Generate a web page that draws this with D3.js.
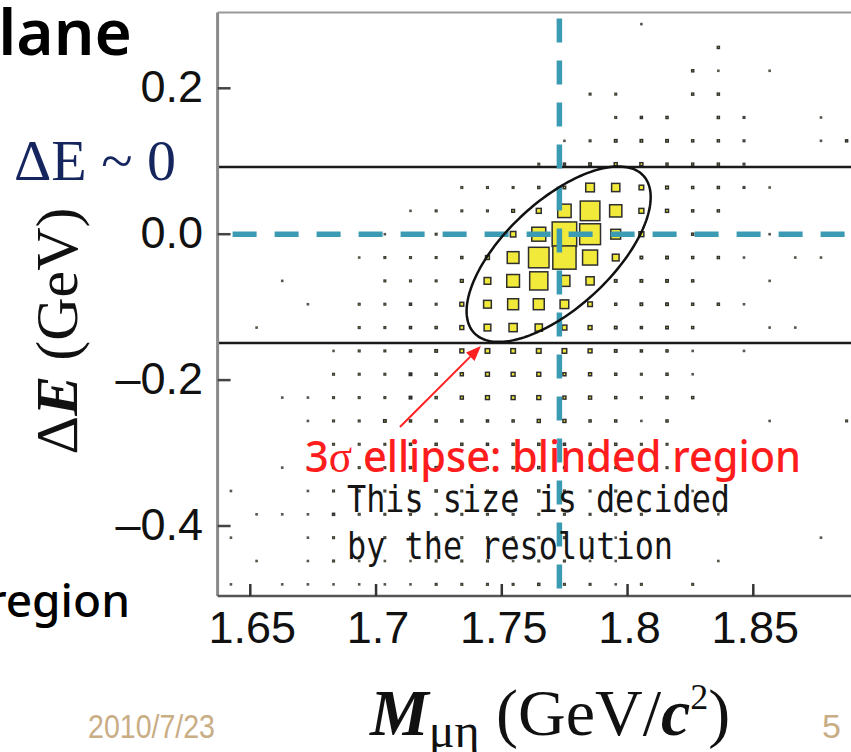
<!DOCTYPE html>
<html>
<head>
<meta charset="utf-8">
<script src="https://cdn.jsdelivr.net/npm/d3@7"></script>
<style>
  body { margin: 0; background: #fff; }
  svg { display: block; }
</style>
</head>
<body>
<div class="container"></div>
<script>
const width = 851;
const height = 752;

// 2D histogram: M(mu eta) columns, dE rows (row 0 = top)
const xBinStart = 1.6372, xBinWidth = 0.0102;
const yBinTop = 0.304, yBinHeight = 0.032;
const counts = [
  [0,0,0,0,0,0,0,0,0,0,0,0,0,0,0,0,1,0,0,0,0,0,0,0,0],
  [0,0,0,0,0,0,0,0,0,0,0,0,0,0,0,0,0,0,0,3,0,0,0,0,0],
  [0,0,0,0,0,0,0,0,0,0,0,0,0,0,0,0,0,0,3,1,0,1,0,0,0],
  [0,0,0,0,0,0,0,0,0,0,0,0,0,0,2,2,0,0,3,3,0,0,0,0,0],
  [0,0,0,0,0,0,0,0,0,0,0,0,0,0,0,2,3,3,0,3,2,0,0,1,0],
  [0,0,0,0,0,0,0,0,0,0,0,0,0,1,2,4,4,4,3,3,2,0,0,1,3],
  [0,0,0,0,0,0,0,0,0,0,0,0,2,3,4,6,6,3,3,3,2,0,0,0,0],
  [0,0,0,0,0,0,0,0,0,2,2,2,3,4,50,45,14,5,3,3,2,1,0,0,0],
  [0,0,0,0,0,0,0,1,2,2,2,5,16,120,256,100,16,6,3,3,0,0,0,0,0],
  [0,0,0,0,0,0,1,2,2,2,3,20,130,400,290,64,16,3,3,0,0,1,0,0,0],
  [0,0,0,0,0,1,2,2,2,3,10,92,280,360,150,30,4,4,3,3,1,0,1,1,0],
  [0,0,1,0,0,0,2,2,2,5,30,108,220,80,45,4,4,4,3,0,0,1,0,0,0],
  [0,0,0,1,0,2,2,3,2,10,40,80,80,50,14,3,4,4,3,3,1,0,0,0,0],
  [0,1,0,0,0,2,2,3,3,10,30,45,35,16,10,4,3,4,3,0,0,1,1,0,0],
  [0,0,0,0,1,2,2,3,4,10,14,14,14,14,10,4,3,3,1,0,1,0,0,0,0],
  [0,0,0,0,2,2,2,4,3,6,10,10,10,6,6,3,2,3,1,0,0,0,0,0,0],
  [0,0,1,1,2,2,2,4,3,6,10,10,10,6,6,3,2,3,3,0,0,0,0,0,0],
  [0,0,0,1,2,2,4,3,3,3,3,3,6,6,3,3,1,3,0,0,0,1,0,0,2],
  [0,0,0,0,2,2,2,3,3,3,3,3,3,3,3,3,2,2,0,0,0,0,0,0,0],
  [0,0,1,1,2,2,2,3,3,3,2,3,3,2,2,2,0,2,0,0,0,0,0,0,0],
  [1,0,0,1,2,2,2,2,3,2,2,2,3,2,2,2,1,0,1,0,0,0,0,0,0],
  [0,1,1,1,3,2,2,2,2,2,2,2,2,2,2,2,2,0,0,1,0,0,0,0,0],
  [1,0,0,1,2,1,2,2,2,2,2,2,2,2,1,1,0,0,0,0,0,0,0,1,0],
  [0,1,0,1,2,1,1,1,2,2,2,1,2,2,1,1,0,0,0,1,0,0,0,0,0],
  [1,0,1,1,1,1,1,1,2,2,2,2,3,2,2,1,2,0,2,0,0,0,0,0,0]
];

const xTicks = [1.65, 1.7, 1.75, 1.8, 1.85];
const yTicks = [0.2, 0.0, -0.2, -0.4];
const cutLines = [0.092, -0.149];
const signalM = 1.7729;
const signalDE = 0.0;
const ellipse = { cx: 1.7726, cy: -0.0274, sx: 0.0366, sy: 0.1202, rho: 0.65 };
const arrowFrom = [1.7095, -0.2643], arrowTo = [1.7417, -0.1533];

const x = d3.scaleLinear().domain([1.65, 1.85]).range([250.3, 753.3]);
const y = d3.scaleLinear().domain([-0.4, 0.2]).range([526, 88.3]);
const size = d3.scaleSqrt().domain([0, 400]).range([0, 24.5]);

const xMin = 1.637, xMax = 1.92, yMin = -0.496, yMax = 0.304;

const svg = d3.select(".container")
  .append("svg")
  .attr("width", width)
  .attr("height", height)
  .style("background", "#fff");

const cells = [];
counts.forEach((row, r) => row.forEach((v, c) => {
  if (v > 0) cells.push({
    m: xBinStart + xBinWidth * (c + 0.5),
    e: yBinTop - yBinHeight * (r + 0.5),
    v: v
  });
}));

svg.append("g")
  .selectAll("rect")
  .data(cells)
  .join("rect")
    .attr("x", d => x(d.m) - size(d.v) / 2)
    .attr("y", d => y(d.e) - size(d.v) / 2)
    .attr("width", d => size(d.v))
    .attr("height", d => size(d.v))
    .attr("fill", "#f2ea3a")
    .attr("stroke", "#2e2e2e")
    .attr("stroke-width", d => d.v < 4 ? 1.4 : 1.5)
    .attr("stroke-opacity", d => Math.min(1, 0.55 + size(d.v) / 5));

// cut lines
svg.append("g")
  .selectAll("line")
  .data(cutLines)
  .join("line")
    .attr("x1", x(xMin)).attr("x2", x(xMax))
    .attr("y1", d => y(d)).attr("y2", d => y(d))
    .attr("stroke", "#1a1a1a")
    .attr("stroke-width", 2.5);

// signal position, dashed
const dash = svg.append("g")
  .attr("stroke", "#3a9bb2")
  .attr("stroke-width", 5.5)
  .attr("stroke-dasharray", "24 18");
dash.append("line")
  .attr("x1", x(signalM)).attr("x2", x(signalM))
  .attr("y1", y(yMax) + 6).attr("y2", y(yMin));
dash.append("line")
  .attr("x1", x(xMin) + 15).attr("x2", x(xMax))
  .attr("y1", y(signalDE)).attr("y2", y(signalDE));

// 3 sigma ellipse
const ePts = d3.range(0, 2 * Math.PI + 0.01, Math.PI / 90).map(t => [
  x(ellipse.cx + ellipse.sx * Math.cos(t)),
  y(ellipse.cy + ellipse.sy * (ellipse.rho * Math.cos(t) + Math.sqrt(1 - ellipse.rho * ellipse.rho) * Math.sin(t)))
]);
svg.append("path")
  .attr("d", d3.line().curve(d3.curveLinearClosed)(ePts))
  .attr("fill", "none")
  .attr("stroke", "#111")
  .attr("stroke-width", 2.5);

// frame
const fx0 = x(xMin), fy0 = y(yMax), fy1 = y(yMin);
svg.append("line").attr("x1", fx0).attr("x2", width + 5).attr("y1", fy0).attr("y2", fy0)
  .attr("stroke", "#999").attr("stroke-width", 2);
svg.append("line").attr("x1", fx0).attr("x2", fx0).attr("y1", fy0).attr("y2", fy1)
  .attr("stroke", "#8a8a8a").attr("stroke-width", 3);
svg.append("line").attr("x1", fx0).attr("x2", width + 5).attr("y1", fy1).attr("y2", fy1)
  .attr("stroke", "#555").attr("stroke-width", 2.5);

// ticks
svg.append("g").selectAll("line").data(yTicks).join("line")
  .attr("x1", fx0).attr("x2", fx0 + 13)
  .attr("y1", d => y(d)).attr("y2", d => y(d))
  .attr("stroke", "#444").attr("stroke-width", 2.5);
svg.append("g").selectAll("line").data(xTicks).join("line")
  .attr("x1", d => x(d)).attr("x2", d => x(d))
  .attr("y1", fy1).attr("y2", fy1 - 12)
  .attr("stroke", "#333").attr("stroke-width", 2.5);

const sans = "'Liberation Sans', Arial, sans-serif";
const serif = "'Liberation Serif', 'Times New Roman', serif";

svg.append("g")
  .style("font", `45px ${sans}`)
  .attr("text-anchor", "end")
  .attr("fill", "#111")
  .selectAll("text").data(yTicks).join("text")
    .attr("x", 203)
    .attr("y", d => y(d) + 14)
    .text(d => d3.format(".1f")(d).replace("−", "–"));

svg.append("g")
  .style("font", `45px ${sans}`)
  .attr("text-anchor", "middle")
  .attr("fill", "#111")
  .selectAll("text").data(xTicks).join("text")
    .attr("x", d => x(d) + 2)
    .attr("y", 643)
    .text(d => d3.format("")(d));

// axis titles
const yt = svg.append("text")
  .attr("transform", "translate(77,331) rotate(-90)")
  .attr("text-anchor", "middle")
  .style("font", `60px ${serif}`)
  .attr("fill", "#111");
yt.append("tspan").text("Δ");
yt.append("tspan").attr("font-weight", "bold").attr("font-style", "italic").text("E");
yt.append("tspan").text(" (GeV)");

const xt = svg.append("text")
  .attr("x", 370).attr("y", 735)
  .style("font", `66px ${serif}`)
  .attr("fill", "#111");
xt.append("tspan").attr("font-weight", "bold").attr("font-style", "italic").text("M");
xt.append("tspan").attr("font-size", "48px").attr("dy", 12).text("μη");
xt.append("tspan").attr("dy", -12).text(" (GeV/");
xt.append("tspan").attr("font-weight", "bold").attr("font-style", "italic").text("c");
xt.append("tspan").attr("font-size", "36px").attr("dy", -26).text("2");
xt.append("tspan").attr("dy", 26).text(")");

svg.append("text")
  .attr("x", 14).attr("y", 180)
  .style("font", `58px ${serif}`)
  .attr("fill", "#15265e")
  .text("ΔE ~ 0");

// slide fragments
svg.append("text")
  .attr("x", 132).attr("y", 55)
  .attr("text-anchor", "end")
  .style("font", `600 64px 'Noto Sans', sans-serif`)
  .attr("fill", "#000")
  .text("plane");
svg.append("text")
  .attr("x", 130).attr("y", 617)
  .attr("text-anchor", "end")
  .style("font", `500 46px 'Noto Sans', sans-serif`)
  .attr("fill", "#000")
  .text("region");

svg.append("text")
  .attr("x", 88).attr("y", 738)
  .attr("textLength", 127).attr("lengthAdjust", "spacingAndGlyphs")
  .style("font", `34px ${sans}`)
  .attr("fill", "#c9ad85")
  .text("2010/7/23");
svg.append("text")
  .attr("x", 822).attr("y", 738)
  .style("font", `34px ${sans}`)
  .attr("fill", "#c9ad85")
  .text("5");

// annotation
const ax0 = x(arrowFrom[0]), ay0 = y(arrowFrom[1]);
const ax1 = x(arrowTo[0]), ay1 = y(arrowTo[1]);
const ang = Math.atan2(ay1 - ay0, ax1 - ax0);
const hl = 15, hw = 6;
svg.append("line")
  .attr("x1", ax0).attr("y1", ay0)
  .attr("x2", ax1 - hl * Math.cos(ang)).attr("y2", ay1 - hl * Math.sin(ang))
  .attr("stroke", "#ff2020").attr("stroke-width", 2);
svg.append("path")
  .attr("d", d3.line()([
    [ax1, ay1],
    [ax1 - hl * Math.cos(ang) + hw * Math.sin(ang), ay1 - hl * Math.sin(ang) - hw * Math.cos(ang)],
    [ax1 - hl * Math.cos(ang) - hw * Math.sin(ang), ay1 - hl * Math.sin(ang) + hw * Math.cos(ang)]
  ]) + "Z")
  .attr("fill", "#ff2020");

const red = svg.append("text")
  .attr("x", 305).attr("y", 472)
  .attr("textLength", 496).attr("lengthAdjust", "spacingAndGlyphs")
  .style("font", `500 44px 'Noto Sans', sans-serif`)
  .attr("fill", "#ff1c1c");
red.append("tspan").text("3");
red.append("tspan").style("font-family", serif).attr("font-size", "46px").text("σ");
red.append("tspan").text(" ellipse: blinded region");

const note = svg.append("g")
  .style("font", `38px 'DejaVu Sans Mono', 'Liberation Mono', monospace`)
  .attr("fill", "#151515");
note.append("text").attr("x", 347).attr("y", 512)
  .attr("textLength", 383).attr("lengthAdjust", "spacingAndGlyphs")
  .text("This size is decided");
note.append("text").attr("x", 347).attr("y", 559)
  .attr("textLength", 326).attr("lengthAdjust", "spacingAndGlyphs")
  .text("by the resolution");
</script>
</body>
</html>
